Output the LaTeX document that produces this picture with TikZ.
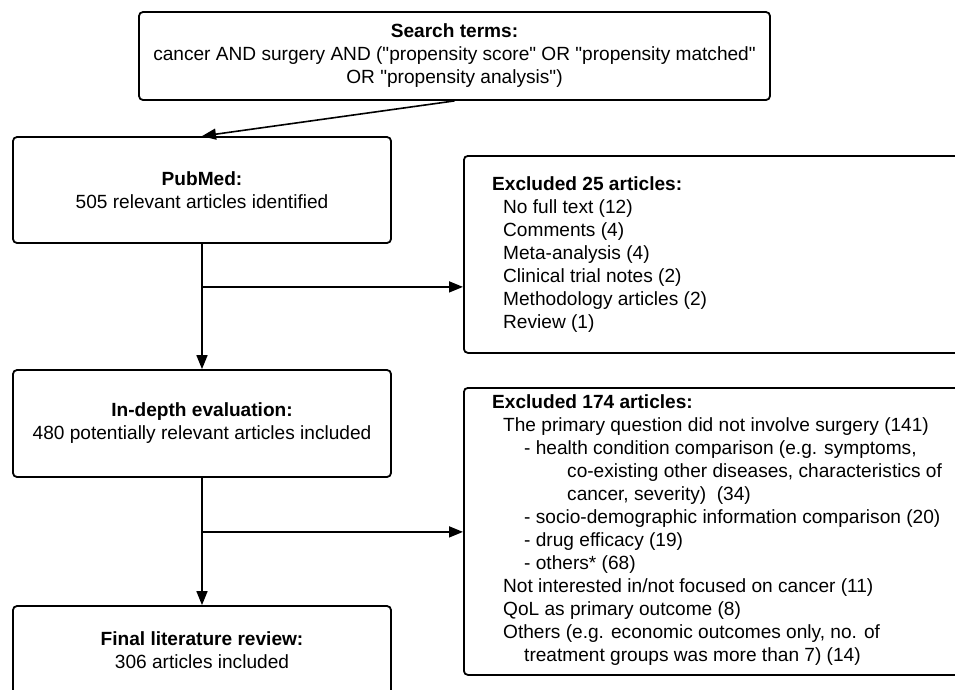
\documentclass[tikz,border=0pt]{standalone}
\usepackage{fontspec}
\setmainfont{Liberation Sans}[Ligatures=TeXOff]
\usepackage{tikz}
\usetikzlibrary{arrows.meta, positioning}

\tikzset{
	box/.style={draw, line width=1.8pt, rounded corners=4pt, align=center,
		minimum width=378pt, inner sep=0pt},
	exbox/.style={draw, line width=1.8pt, rounded corners=4pt, anchor=north west,
		minimum width=600pt, inner sep=0pt},
	extext/.style={anchor=north west, align=left, inner sep=0pt},
	arr/.style={line width=1.6pt, -{Triangle[length=14pt,width=11pt]}}
}

\begin{document}
\begin{tikzpicture}[x=1pt,y=-1pt,font=\fontsize{19.1}{23}\selectfont]
\useasboundingbox (0,0) rectangle (955,689);
\clip (0,0) rectangle (955,689);
% left column
\node[box, minimum width=631pt, minimum height=88pt] (search) at (454.5,56)
	{\textbf{Search terms:}\\cancer AND surgery AND ("propensity score" OR "propensity matched"\\OR "propensity analysis")};
\node[box, minimum height=106pt] (pubmed) at (202,190)
	{\textbf{PubMed:}\\505 relevant articles identified};
\node[box, minimum height=107pt] (indepth) at (202,423.5)
	{\textbf{In-depth evaluation:}\\480 potentially relevant articles included};
\node[box, minimum height=88pt] (final) at (202,650)
	{\textbf{Final literature review:}\\306 articles included};
% exclusion boxes
\node[exbox, minimum height=197pt] (exc25) at (463,155) {};
\node[extext] (t25) at ([shift={(29,21)}]exc25.north west)
	{\textbf{Excluded 25 articles:}\\
	\hspace*{11pt}No full text (12)\\
	\hspace*{11pt}Comments (4)\\
	\hspace*{11pt}Meta-analysis (4)\\
	\hspace*{11pt}Clinical trial notes (2)\\
	\hspace*{11pt}Methodology articles (2)\\
	\hspace*{11pt}Review (1)};
\node[exbox, minimum height=287pt] (exc174) at (463,387) {};
\node[extext] (t174) at ([shift={(29,7)}]exc174.north west)
	{\textbf{Excluded 174 articles:}\\
	\hspace*{11pt}The primary question did not involve surgery (141)\\
	\hspace*{32pt}- health condition comparison (e.g. symptoms,\\
	\hspace*{75pt}co-existing other diseases, characteristics of\\
	\hspace*{75pt}cancer, severity)\ \ (34)\\
	\hspace*{32pt}- socio-demographic information comparison (20)\\
	\hspace*{32pt}- drug efficacy (19)\\
	\hspace*{32pt}- others* (68)\\
	\hspace*{11pt}Not interested in/not focused on cancer (11)\\
	\hspace*{11pt}QoL as primary outcome (8)\\
	\hspace*{11pt}Others (e.g. economic outcomes only, no. of\\
	\hspace*{32pt}treatment groups was more than 7) (14)};
% connectors
\path (pubmed.south) ++(0,43) coordinate (b1);
\path (indepth.south) ++(0,54) coordinate (b2);
\draw[arr] (search.south) -- (pubmed.north);
\draw[arr] (pubmed.south) -- (indepth.north);
\draw[arr] (indepth.south) -- (final.north);
\draw[arr] (b1) -- (b1 -| exc25.west);
\draw[arr] (b2) -- (b2 -| exc174.west);
\end{tikzpicture}
\end{document}
